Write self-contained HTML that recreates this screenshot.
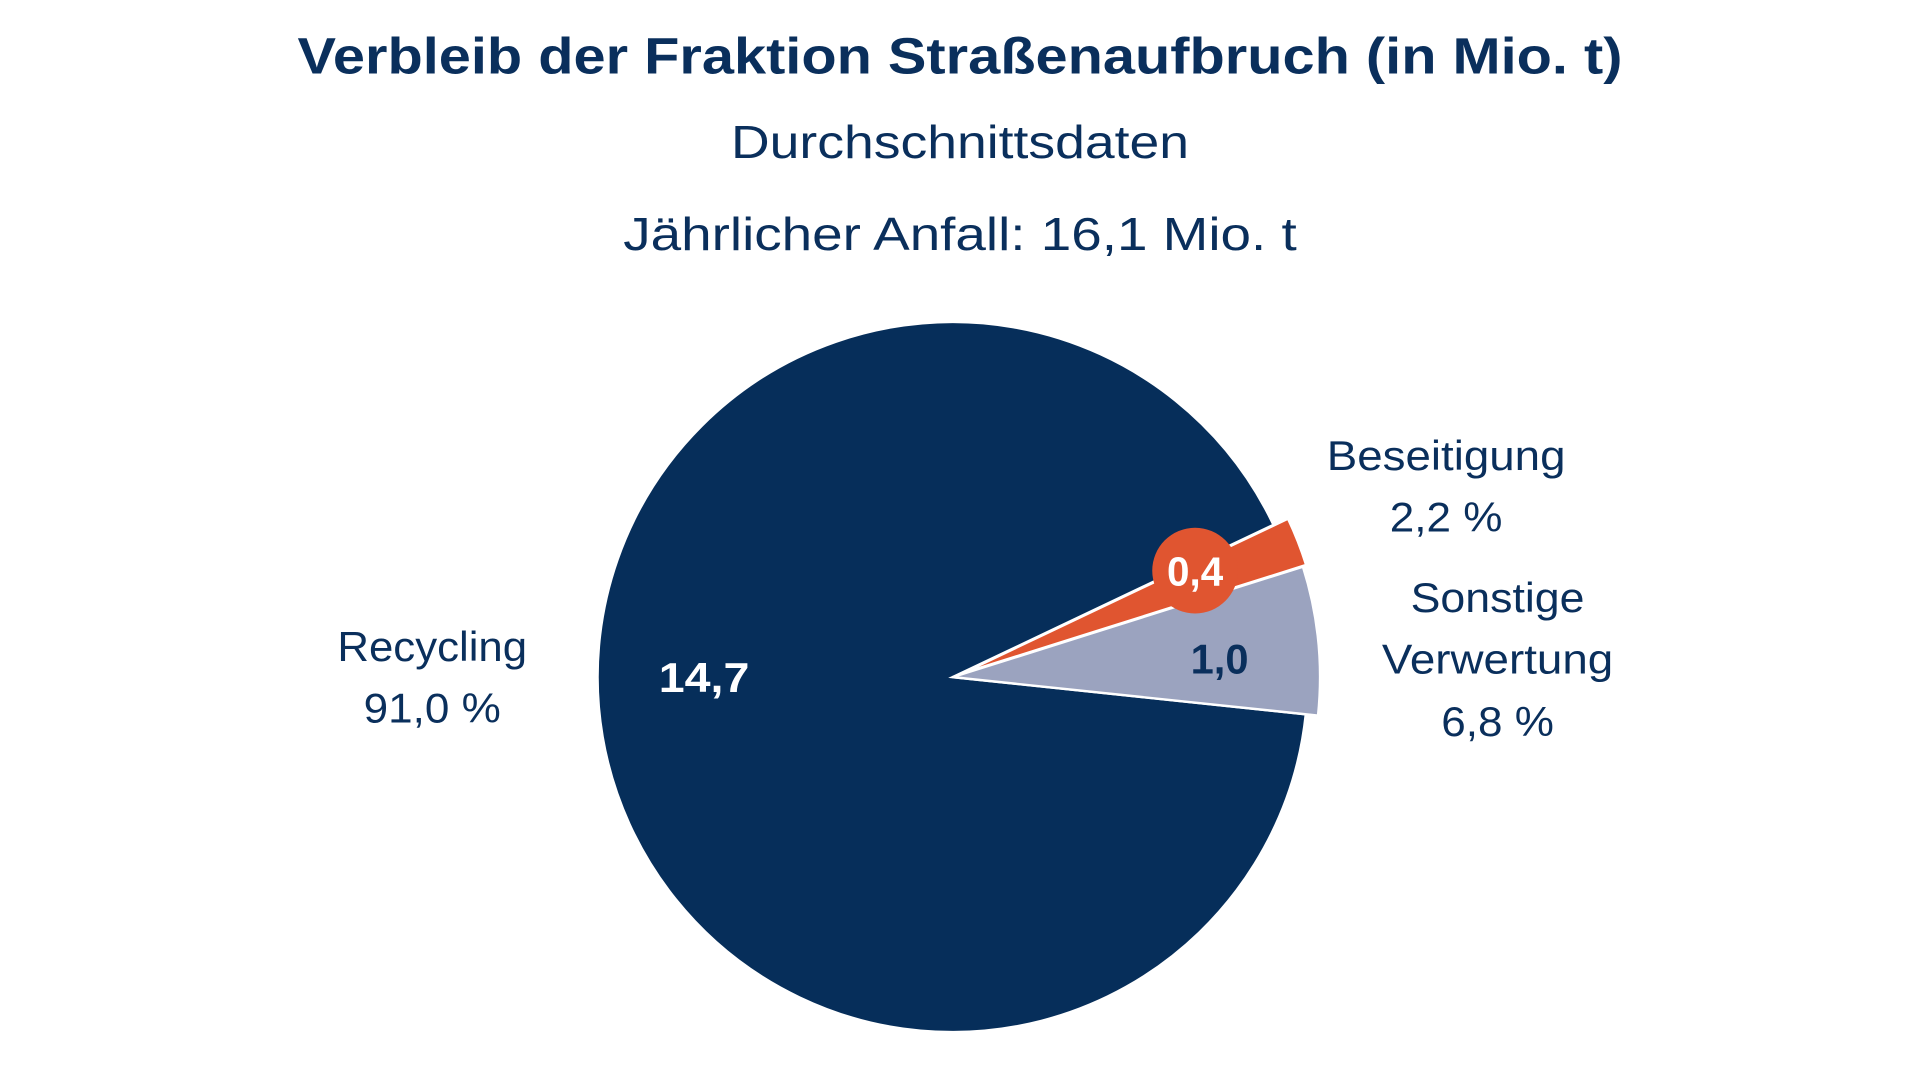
<!DOCTYPE html>
<html><head><meta charset="utf-8"><style>
html,body{margin:0;padding:0;background:#fff;}
svg{display:block}
text{font-family:"Liberation Sans",sans-serif;fill:#0a2f5c}
</style></head><body>
<svg width="1920" height="1080" viewBox="0 0 1568 882" xmlns="http://www.w3.org/2000/svg">
<rect width="1568" height="882" fill="#fff"/>
<text x="784" y="60" text-anchor="middle" font-size="42" font-weight="bold" textLength="1082" lengthAdjust="spacingAndGlyphs">Verbleib der Fraktion Straßenaufbruch (in Mio. t)</text>
<text x="784" y="129" text-anchor="middle" font-size="38" textLength="374" lengthAdjust="spacingAndGlyphs">Durchschnittsdaten</text>
<text x="784" y="204" text-anchor="middle" font-size="38" textLength="550" lengthAdjust="spacingAndGlyphs">Jährlicher Anfall: 16,1 Mio. t</text>

<path d="M778,553 L1066.4,583.3 A290,290 0 1 1 1040,428.6 Z" fill="#062e5a" stroke="#fff" stroke-width="2"/>
<path d="M785.4,550.1 L1051.9,423.6 A295,295 0 0 1 1066.7,461.4 Z" fill="#e05530" stroke="#fff" stroke-width="2"/>
<path d="M778,553 L1064.1,462.8 A300,300 0 0 1 1076.4,584.4 Z" fill="#9ba3bf" stroke="#fff" stroke-width="2"/>

<circle cx="976" cy="466" r="35" fill="#e05530"/>
<text x="976" y="478" text-anchor="middle" font-size="33" font-weight="bold" style="fill:#fff">0,4</text>
<text x="575" y="565" text-anchor="middle" font-size="34" font-weight="bold" style="fill:#fff" textLength="74" lengthAdjust="spacingAndGlyphs">14,7</text>
<text x="996" y="550" text-anchor="middle" font-size="34" font-weight="bold">1,0</text>

<g font-size="34" text-anchor="middle">
<text x="353" y="540" textLength="155" lengthAdjust="spacingAndGlyphs">Recycling</text>
<text x="353" y="590" textLength="112" lengthAdjust="spacingAndGlyphs">91,0 %</text>
<text x="1181" y="384" textLength="195" lengthAdjust="spacingAndGlyphs">Beseitigung</text>
<text x="1181" y="434" textLength="92" lengthAdjust="spacingAndGlyphs">2,2 %</text>
<text x="1223" y="500" textLength="142" lengthAdjust="spacingAndGlyphs">Sonstige</text>
<text x="1223" y="550" textLength="189" lengthAdjust="spacingAndGlyphs">Verwertung</text>
<text x="1223" y="601" textLength="92" lengthAdjust="spacingAndGlyphs">6,8 %</text>
</g>
</svg>
</body></html>
